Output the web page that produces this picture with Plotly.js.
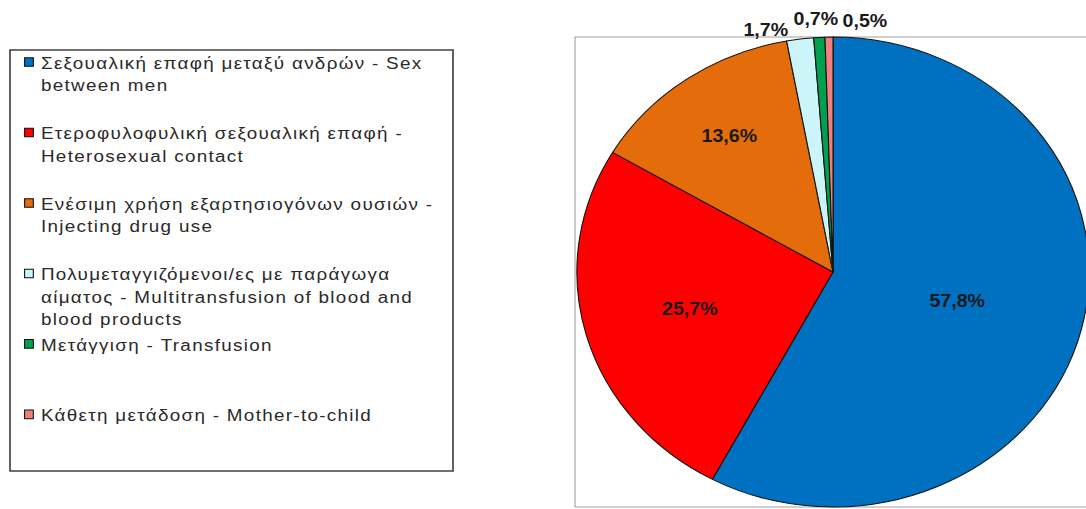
<!DOCTYPE html>
<html>
<head>
<meta charset="utf-8">
<script src="https://cdn.plot.ly/plotly-3.0.1.min.js"></script>
<style>
  html, body { margin: 0; padding: 0; background: #ffffff; overflow: hidden; }
  #wrap { width: 1086px; height: 509px; overflow: hidden; position: relative; }
  #chart { width: 1010px; height: 509px; transform: scaleX(1.09); transform-origin: 0 0; }
  #chart .legendtext { letter-spacing: 1.2px; transform: translateX(-9px); }
</style>
</head>
<body>
<div id="wrap"><div id="chart"></div></div>
<script>
// ---- data ----
const categories = [
  "Σεξουαλική επαφή μεταξύ ανδρών - Sex<br>between men<br>\u00a0",
  "Ετεροφυλοφυλική σεξουαλική επαφή -<br>Heterosexual contact<br>\u00a0",
  "Ενέσιμη χρήση εξαρτησιογόνων ουσιών -<br>Injecting drug use<br>\u00a0",
  "Πολυμεταγγιζόμενοι/ες με παράγωγα<br>αίματος - Multitransfusion of blood and<br>blood products",
  "Μετάγγιση - Transfusion<br>\u00a0<br>\u00a0",
  "Κάθετη μετάδοση - Mother-to-child<br>\u00a0<br>\u00a0"
];
const values = [57.8, 25.7, 13.6, 1.7, 0.7, 0.5];
const sliceColors = ["#0070C0", "#FF0000", "#E46C0A", "#CCF5FA", "#00A050", "#F08080"];
const labelInside = ["inside", "inside", "inside", "none", "none", "none"];

const fmt = v => v.toFixed(1).replace(".", ",") + "%";
const FONT = "Liberation Sans, Arial, sans-serif";

const trace = {
  type: "pie",
  labels: categories,
  values: values,
  sort: false,
  direction: "clockwise",
  rotation: 0,
  marker: { colors: sliceColors, line: { color: "#111111", width: 1 } },
  textposition: labelInside,
  texttemplate: "%{value:.1f}%",
  insidetextorientation: "horizontal",
  insidetextfont: { family: FONT, size: 18, color: "#1a1a1a", weight: 700 },
  hoverinfo: "label+percent",
  domain: { x: [0.524, 0.9893], y: [0.0039, 0.9273] },
  showlegend: true
};

// outside labels for the three small slices (text from data)
const smallIdx = [3, 4, 5];
const smallX = [0.6958, 0.7408, 0.7857];
const smallY = [0.941, 0.9627, 0.9587];
const annotations = smallIdx.map((i, k) => ({
  xref: "paper", yref: "paper", x: smallX[k], y: smallY[k],
  xanchor: "center", yanchor: "middle", showarrow: false,
  text: fmt(values[i]),
  font: { family: FONT, size: 18, color: "#1a1a1a", weight: 700 }
}));

const layout = {
  width: 1010, height: 509,
  margin: { l: 0, r: 0, t: 0, b: 0 },
  paper_bgcolor: "#ffffff",
  separators: ",.",
  showlegend: true,
  legend: {
    x: 0.0065, y: 0.913, xanchor: "left", yanchor: "top",
    bgcolor: "rgba(0,0,0,0)", borderwidth: 0,
    valign: "top",
    traceorder: "normal",
    font: { family: FONT, size: 17.3, color: "#2a2a2a" }
  },
  shapes: [
    { type: "rect", xref: "paper", yref: "paper", x0: 0.00908, x1: 0.4115, y0: 0.0747, y1: 0.9018,
      line: { color: "#404040", width: 1.5 }, fillcolor: "rgba(0,0,0,0)", layer: "below" },
    { type: "rect", xref: "paper", yref: "paper", x0: 0.5223, x1: 1.05, y0: 0.0039, y1: 0.9273,
      line: { color: "#a0a0a0", width: 1 }, fillcolor: "rgba(0,0,0,0)", layer: "below" }
  ],
  annotations: annotations
};

Plotly.newPlot("chart", [trace], layout, { displayModeBar: false, staticPlot: true }).then(gd => {
  gd.querySelectorAll(".legend [clip-path]").forEach(el => el.removeAttribute("clip-path"));
  gd.querySelectorAll(".legend path.legendpie").forEach(el => el.setAttribute("d", "M4,4.3H-4V-4.3H4Z"));
});
</script>
</body>
</html>
